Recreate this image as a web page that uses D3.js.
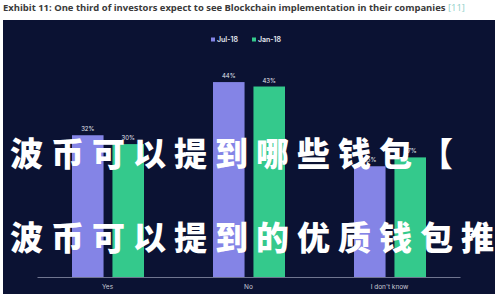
<!DOCTYPE html>
<meta charset="utf-8">
<style>
	body { margin: 0; background: #fff; }
	svg { display: block; }
	.title { font-family: "Open Sans", Lato, sans-serif; font-weight: 700; font-size: 9.45px; fill: #3a3a3a; }
	.ref { fill: #8fcfc8; font-weight: 400; }
	.legend text { font-family: Inter, Roboto, sans-serif; font-size: 7px; font-weight: 600; fill: #e8eaf2; }
	.val { font-family: Inter, Roboto, sans-serif; font-size: 6px; fill: #e0e2ec; text-anchor: middle; }
	.cat { font-family: Inter, Roboto, sans-serif; font-size: 6.5px; fill: #c8cad6; text-anchor: middle; }
	.overlay { font-family: "Noto Sans CJK SC", sans-serif; font-weight: 900; font-size: 33px; fill: #fff; letter-spacing: 8px; }
</style>
<body>
<div id="chart"></div>
<script src="https://cdn.jsdelivr.net/npm/d3@7"></script>
<script>
	// data
	var categories = ["Yes", "No", "I don't know"];
	var series = ["Jul-18", "Jan-18"];
	var jul18 = [32, 44, 25];
	var jan18 = [30, 43, 27];
	var colors = ["#8484e6", "#34c98c"];
	var overlayLines = ["瑞波币可以提到哪些钱包【", "瑞波币可以提到的优质钱包推荐"];

	var W = 500, H = 300;
	var svg = d3.select("#chart").append("svg")
		.attr("width", W)
		.attr("height", H);

	// title above the dark panel
	var t = svg.append("text").attr("class", "title").attr("x", 3).attr("y", 11);
	t.append("tspan").text("Exhibit 11: One third of investors expect to see Blockchain implementation in their companies ");
	t.append("tspan").attr("class", "ref").text("[11]");

	// dark panel
	svg.append("rect")
		.attr("x", 3).attr("y", 20)
		.attr("width", 492).attr("height", 274)
		.attr("fill", "#0b1233");

	// scales
	var x0 = d3.scaleBand().domain(categories).range([37, 460]);
	var x1 = d3.scaleBand().domain(series).range([35, 107]).paddingInner(0.22);
	var y = d3.scaleLinear().domain([0, 50]).range([277, 55.5]);

	var rows = categories.map(function (c, i) {
		return {cat: c, values: [jul18[i], jan18[i]]};
	});

	// legend
	var legend = svg.append("g").attr("class", "legend");
	var lx = [211, 252];
	series.forEach(function (s, i) {
		legend.append("rect")
			.attr("x", lx[i]).attr("y", 37.5)
			.attr("width", 4).attr("height", 4)
			.attr("fill", colors[i]);
		legend.append("text")
			.attr("x", lx[i] + 6).attr("y", 42.3)
			.text(s);
	});

	// bars
	var groups = svg.selectAll(".grp")
		.data(rows)
		.enter().append("g")
		.attr("class", "grp")
		.attr("transform", function (d) { return "translate(" + x0(d.cat) + ",0)"; });

	groups.selectAll("rect")
		.data(function (d) { return d.values.map(function (v, i) { return {s: series[i], v: v, i: i}; }); })
		.enter().append("rect")
		.attr("x", function (d) { return x1(d.s); })
		.attr("y", function (d) { return y(d.v); })
		.attr("width", x1.bandwidth())
		.attr("height", function (d) { return y(0) - y(d.v); })
		.attr("fill", function (d) { return colors[d.i]; });

	groups.selectAll(".val")
		.data(function (d) { return d.values.map(function (v, i) { return {s: series[i], v: v}; }); })
		.enter().append("text")
		.attr("class", "val")
		.attr("x", function (d) { return x1(d.s) + x1.bandwidth() / 2; })
		.attr("y", function (d) { return y(d.v) - 4; })
		.text(function (d) { return d.v + "%"; });

	// x axis
	var axis = svg.append("g")
		.attr("transform", "translate(0," + y(0) + ")")
		.call(d3.axisBottom(x0).tickSize(0).tickPadding(7));
	axis.select(".domain").attr("stroke", "#8a8fa8").attr("stroke-width", 0.8);
	axis.selectAll("text").attr("class", "cat").attr("font-family", null).attr("font-size", null).attr("fill", null);

	// overlay text
	svg.selectAll(".overlay")
		.data(overlayLines)
		.enter().append("text")
		.attr("class", "overlay")
		.attr("x", -31)
		.attr("y", function (d, i) { return i === 0 ? 152 : 236; })
		.attr("dominant-baseline", "central")
		.text(function (d) { return d; });
</script>
</body>
